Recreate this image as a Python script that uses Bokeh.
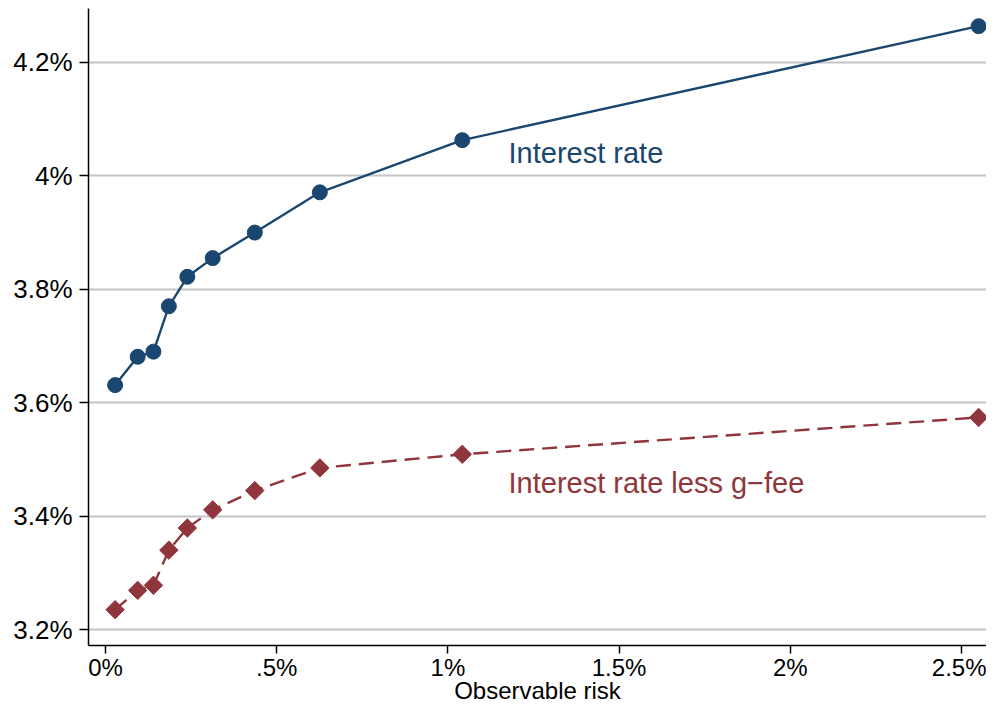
import math
from bokeh.plotting import figure
from bokeh.models import FixedTicker, ColumnDataSource
from bokeh.core.properties import value
from bokeh.embed import file_html
from bokeh.resources import INLINE

# Data (percent)
risk = [0.028, 0.094, 0.140, 0.185, 0.239, 0.313, 0.436, 0.626, 1.042, 2.550]
interest_rate = [3.631, 3.681, 3.690, 3.770, 3.822, 3.855, 3.900, 3.971, 4.063, 4.264]
rate_less_gfee = [3.235, 3.269, 3.278, 3.340, 3.379, 3.411, 3.445, 3.485, 3.509, 3.574]

x_ticks = [0, 0.5, 1, 1.5, 2, 2.5]
x_tick_labels = ["0%", ".5%", "1%", "1.5%", "2%", "2.5%"]
y_ticks = [3.2, 3.4, 3.6, 3.8, 4.0, 4.2]
y_tick_labels = ["3.2%", "3.4%", "3.6%", "3.8%", "4%", "4.2%"]

label_text = ["Interest rate", "Interest rate less g\u2212fee"]
label_x = [1.177, 1.177]
label_y = [4.0395, 3.4575]
label_colors = ["#1a476f", "#90353b"]

x_title = "Observable risk"

BLUE = "#1a476f"
RED = "#90353b"
FONT = "Liberation Sans"

p = figure(width=986, height=707, output_backend="svg", toolbar_location=None,
           x_range=(-0.0497, 2.573), y_range=(3.1718, 4.2952),
           min_border_left=88, min_border_right=0, min_border_top=8, min_border_bottom=62)
p.outline_line_color = None
p.background_fill_color = "white"
p.border_fill_color = "white"

# grid
p.xgrid.grid_line_color = None
p.ygrid.grid_line_color = "#c4c4c4"
p.ygrid.grid_line_width = 2
p.ygrid.ticker = FixedTicker(ticks=y_ticks)

# axes
p.xaxis.ticker = FixedTicker(ticks=x_ticks)
p.yaxis.ticker = FixedTicker(ticks=y_ticks)
p.xaxis.major_label_overrides = {t: l for t, l in zip(x_ticks, x_tick_labels)}
p.yaxis.major_label_overrides = {t: l for t, l in zip(y_ticks, y_tick_labels)}
for ax in (p.xaxis, p.yaxis):
    ax.axis_line_color = "black"
    ax.axis_line_width = 1.5
    ax.major_tick_line_color = "black"
    ax.major_tick_line_width = 1.5
    ax.major_tick_in = 0
    ax.minor_tick_line_color = None
    ax.major_label_text_font = FONT
    ax.major_label_text_color = "black"
p.yaxis.major_tick_out = 9
p.xaxis.major_tick_out = 8
p.yaxis.major_label_text_font_size = "26px"
p.xaxis.major_label_text_font_size = "24px"
p.yaxis.major_label_orientation = 0
p.yaxis.major_label_standoff = 7
p.xaxis.major_label_standoff = 0

p.xaxis.axis_label = x_title
p.xaxis.axis_label_text_font = FONT
p.xaxis.axis_label_text_font_size = "24px"
p.xaxis.axis_label_text_font_style = "normal"
p.xaxis.axis_label_text_color = "black"
p.xaxis.axis_label_standoff = -7

# series
p.line(risk, interest_rate, line_color=BLUE, line_width=2.4)
p.scatter(risk, interest_rate, marker="circle", size=15, fill_color=BLUE, line_color=BLUE)

p.line(risk, rate_less_gfee, line_color=RED, line_width=2.4, line_dash="15 8")
p.scatter(risk, rate_less_gfee, marker="square", angle=math.pi / 4, size=13,
          fill_color=RED, line_color=RED)

src = ColumnDataSource(dict(x=label_x, y=label_y, t=label_text, c=label_colors))
p.text(x="x", y="y", text="t", text_color="c", source=src,
       text_font=value(FONT), text_font_size="29px",
       text_align="left", text_baseline="middle")

open("out.html", "w").write(file_html(p, INLINE))
